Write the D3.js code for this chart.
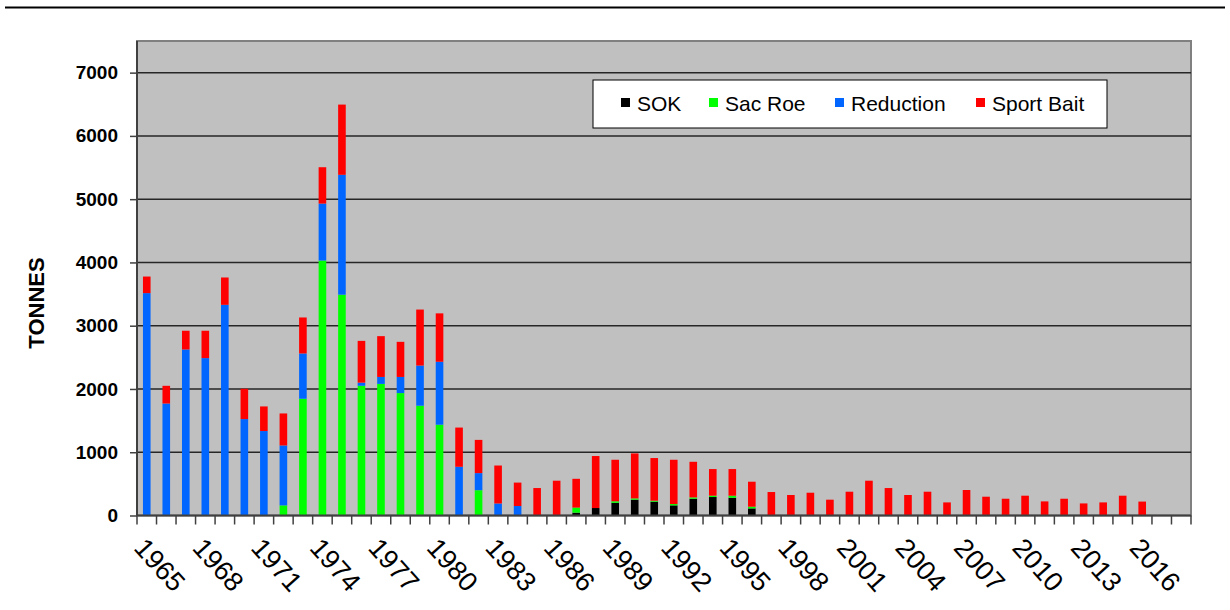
<!DOCTYPE html>
<html>
<head>
<meta charset="utf-8">
<script src="https://cdn.jsdelivr.net/npm/d3@7"></script>
<style>
  html, body { margin: 0; padding: 0; background: #fff; }
  svg { display: block; font-family: "Liberation Sans", Arial, sans-serif; }
</style>
</head>
<body>
<svg id="chart" width="1230" height="610"></svg>
<script>
// Herring catch by fishery, tonnes per year
const years = d3.range(1965, 2019);

const sok = [
  0, 0, 0, 0, 0, 0, 0, 0, 0, 0,          // 1965-1974
  0, 0, 0, 0, 0, 0, 0, 0, 0, 0,          // 1975-1984
  0, 0, 45, 118, 200, 250, 218, 160, 265, 292, // 1985-1994
  281, 112, 0, 0, 0, 0, 0, 0, 0, 0,      // 1995-2004
  0, 0, 0, 0, 0, 0, 0, 0, 0, 0,          // 2005-2014
  0, 0, 0, 0                             // 2015-2018
];

const sacRoe = [
  0, 0, 0, 0, 0, 0, 0, 160, 1845, 4030,
  3490, 2050, 2080, 1935, 1735, 1435, 0, 400, 0, 0,
  0, 0, 80, 0, 25, 20, 16, 21, 21, 21,
  32, 27, 0, 0, 0, 0, 0, 0, 0, 0,
  0, 0, 0, 0, 0, 0, 0, 0, 0, 0,
  0, 0, 0, 0
];

const reduction = [
  3515, 1770, 2624, 2488, 3330, 1524, 1335, 947, 716, 900,
  1895, 50, 110, 255, 635, 995, 770, 270, 190, 150,
  0, 0, 0, 0, 0, 0, 0, 0, 0, 0,
  0, 0, 0, 0, 0, 0, 0, 0, 0, 0,
  0, 0, 0, 0, 0, 0, 0, 0, 0, 0,
  0, 0, 0, 0
];

const sportBait = [
  262, 280, 296, 432, 432, 479, 389, 506, 569, 575,
  1110, 660, 645, 555, 885, 765, 620, 525, 600, 370,
  434, 550, 455, 822, 656, 711, 674, 700, 563, 421,
  421, 395, 371, 324, 360, 250, 376, 550, 434, 324,
  376, 207, 403, 297, 265, 313, 223, 265, 191, 207,
  313, 220, 0, 0
];

const seriesNames = ["SOK", "Sac Roe", "Reduction", "Sport Bait"];
const seriesColors = ["#000000", "#00ff00", "#0066ff", "#ff0000"];
const yTicks = [0, 1000, 2000, 3000, 4000, 5000, 6000, 7000];
const xTickLabels = d3.range(1965, 2017, 3);

const rows = years.map((y, i) => ({
  year: y,
  "SOK": sok[i],
  "Sac Roe": sacRoe[i],
  "Reduction": reduction[i],
  "Sport Bait": sportBait[i]
}));

const svg = d3.select("#chart");
const plot = { left: 137, right: 1191, top: 41, bottom: 515.5 };

const x = d3.scaleBand().domain(years).range([plot.left, plot.right]).padding(0);
const y = d3.scaleLinear().domain([0, 7500]).range([plot.bottom, plot.top]);

// rule across the top of the page
svg.append("line")
  .attr("x1", 5).attr("x2", 1225).attr("y1", 7.5).attr("y2", 7.5)
  .attr("stroke", "#000").attr("stroke-width", 2);

// plot background
svg.append("rect")
  .attr("x", plot.left).attr("y", plot.top)
  .attr("width", plot.right - plot.left).attr("height", plot.bottom - plot.top)
  .attr("fill", "#c0c0c0")
  .attr("stroke", "#808080").attr("stroke-width", 2);

// horizontal gridlines
svg.append("g")
  .selectAll("line")
  .data(yTicks.filter(d => d > 0))
  .join("line")
  .attr("x1", plot.left).attr("x2", plot.right)
  .attr("y1", d => y(d)).attr("y2", d => y(d))
  .attr("stroke", "#262626").attr("stroke-width", 1.5);

// stacked bars
const stack = d3.stack().keys(seriesNames);
const layers = stack(rows);
const barW = x.bandwidth() * 0.39;

svg.append("g")
  .selectAll("g")
  .data(layers)
  .join("g")
  .attr("fill", (d, i) => seriesColors[i])
  .selectAll("rect")
  .data(d => d.filter(p => p[1] - p[0] > 0))
  .join("rect")
  .attr("x", p => x(p.data.year) + (x.bandwidth() - barW) / 2)
  .attr("width", barW)
  .attr("y", p => y(p[1]))
  .attr("height", p => y(p[0]) - y(p[1]));

// axis lines
svg.append("line")
  .attr("x1", plot.left).attr("x2", plot.left)
  .attr("y1", plot.top).attr("y2", plot.bottom)
  .attr("stroke", "#404040").attr("stroke-width", 2);
svg.append("line")
  .attr("x1", plot.left).attr("x2", plot.right)
  .attr("y1", plot.bottom).attr("y2", plot.bottom)
  .attr("stroke", "#404040").attr("stroke-width", 2);

// y axis
const yAxis = d3.axisLeft(y).tickValues(yTicks).tickSize(7).tickPadding(12).tickFormat(d3.format("d"));
const gy = svg.append("g").attr("transform", `translate(${plot.left},0)`).call(yAxis);
gy.select(".domain").remove();
gy.selectAll(".tick line").attr("stroke", "#404040").attr("stroke-width", 1.5);
gy.selectAll(".tick text")
  .attr("font-size", 19).attr("font-weight", "bold").attr("fill", "#000")
  .attr("font-family", "Liberation Sans, Arial, sans-serif");

// x axis tick marks on category boundaries
const boundaries = years.map(d => x(d)).concat([plot.right]);
svg.append("g")
  .selectAll("line")
  .data(boundaries)
  .join("line")
  .attr("x1", d => d).attr("x2", d => d)
  .attr("y1", plot.bottom).attr("y2", plot.bottom + 9)
  .attr("stroke", "#404040").attr("stroke-width", 1.5);

// rotated year labels
svg.append("g")
  .selectAll("text")
  .data(xTickLabels)
  .join("text")
  .attr("transform", d => `translate(${x(d) + x.bandwidth() / 2 - 7},${plot.bottom + 27}) rotate(48)`)
  .attr("text-anchor", "start")
  .attr("dy", "0.35em")
  .attr("font-size", 27)
  .attr("fill", "#000")
  .text(d => d);

// y axis title
svg.append("text")
  .attr("transform", "translate(44,303) rotate(-90)")
  .attr("text-anchor", "middle")
  .attr("font-size", 22)
  .attr("font-weight", "bold")
  .text("TONNES");

// legend
const legend = svg.append("g");
legend.append("rect")
  .attr("x", 593).attr("y", 80).attr("width", 514).attr("height", 48)
  .attr("fill", "#fff").attr("stroke", "#000").attr("stroke-width", 1);
const legendX = [621, 709, 835, 976];
const items = legend.selectAll("g")
  .data(seriesNames)
  .join("g")
  .attr("transform", (d, i) => `translate(${legendX[i]},0)`);
items.append("rect")
  .attr("x", 0).attr("y", 98).attr("width", 9).attr("height", 9)
  .attr("fill", (d, i) => seriesColors[i]);
items.append("text")
  .attr("x", 16).attr("y", 111)
  .attr("font-size", 21)
  .attr("fill", "#000")
  .text(d => d);
</script>
</body>
</html>
